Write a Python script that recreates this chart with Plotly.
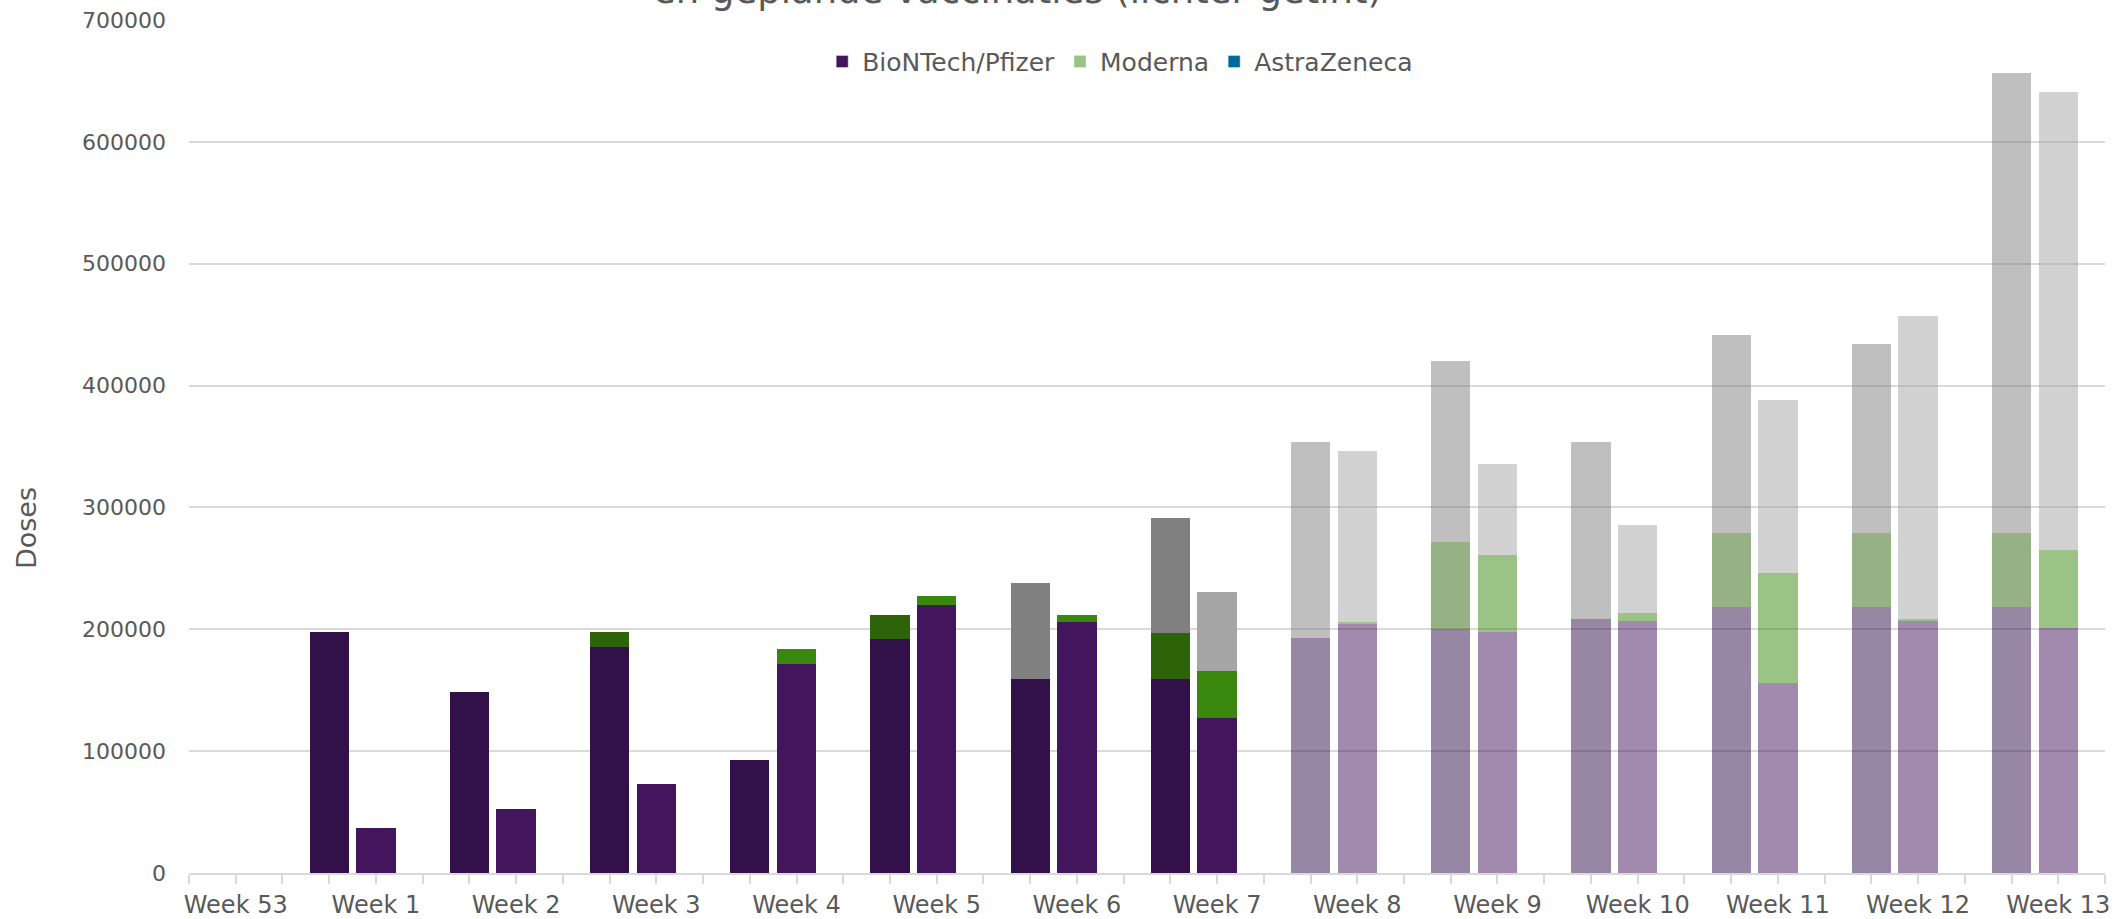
import plotly.graph_objects as go

weeks = ["Week 53", "Week 1", "Week 2", "Week 3", "Week 4", "Week 5", "Week 6",
         "Week 7", "Week 8", "Week 9", "Week 10", "Week 11", "Week 12", "Week 13"]

# Delivered (left bar of each week)
pfizer_delivered = [0, 198000, 148500, 185500, 92700, 192000, 159300, 159300,
                    192800, 200000, 208400, 218500, 218500, 218500]
moderna_delivered = [0, 0, 0, 12300, 0, 19700, 0, 37700,
                     0, 71600, 0, 60900, 60900, 60900]
astra_delivered = [0, 0, 0, 0, 0, 0, 78700, 94600,
                   160900, 148500, 145300, 162100, 155100, 376900]

# Planned (right bar of each week)
pfizer_planned = [0, 36700, 52300, 73300, 171300, 219900, 206000, 127200,
                  204300, 197800, 206500, 155700, 206500, 201000]
moderna_planned = [0, 0, 0, 0, 12500, 7400, 5700, 38600,
                   2000, 62800, 6700, 90700, 1900, 64300]
astra_planned = [0, 0, 0, 0, 0, 0, 0, 64800,
                 140000, 75000, 72400, 141700, 248700, 375500]

first_light_week = 8  # from Week 8 on the bars are tinted lighter

y_ticks = [0, 100000, 200000, 300000, 400000, 500000, 600000, 700000]
y_ticktext = ["0", "100000", "200000", "300000", "400000", "500000", "600000", "700000"]

legend_names = ["BioNTech/Pfizer", "Moderna", "AstraZeneca"]
legend_colors = ["rgb(67,21,92)", "rgb(155,196,132)", "rgb(0,105,150)"]

FONT = "DejaVu Sans"
TXT = "#595959"
GRID = "#d9d9d9"

n = len(weeks)
x_left = [3 * i for i in range(n)]
x_right = [3 * i + 1 for i in range(n)]


def colors(rgb):
    return [f"rgba({rgb},{0.5 if i >= first_light_week else 1})" for i in range(n)]


fig = go.Figure()
series = [
    (x_left, pfizer_delivered, "50,16,74"),
    (x_right, pfizer_planned, "67,21,92"),
    (x_left, moderna_delivered, "45,100,9"),
    (x_right, moderna_planned, "58,135,14"),
    (x_left, astra_delivered, "128,128,128"),
    (x_right, astra_planned, "166,166,166"),
]
for xs, ys, rgb in series:
    fig.add_trace(go.Bar(x=xs, y=ys, width=0.84, marker=dict(color=colors(rgb), line=dict(width=0)),
                         showlegend=False, hoverinfo="y"))

for name, col in zip(legend_names, legend_colors):
    fig.add_trace(go.Bar(x=[None], y=[None], name=name, marker=dict(color=col), showlegend=True))

tickvals = list(range(3 * n))
ticktext = [weeks[v // 3] if v % 3 == 1 else "" for v in tickvals]

fig.update_layout(
    width=2128, height=919,
    barmode="stack",
    paper_bgcolor="white", plot_bgcolor="white",
    margin=dict(l=189, r=23, t=20, b=46, autoexpand=False),
    font=dict(family=FONT, size=22, color=TXT),
    legend=dict(orientation="h", x=0.486, xanchor="center", y=0.951, yanchor="middle",
                font=dict(size=25, color=TXT), itemwidth=30, traceorder="normal"),
    xaxis=dict(range=[0, 3 * n - 1], tickvals=tickvals, ticktext=ticktext, ticks="outside",
               ticklen=9, tickwidth=2, tickcolor=GRID, showgrid=False, showline=True,
               linecolor=GRID, linewidth=2, zeroline=False, automargin=False,
               tickfont=dict(size=24, color=TXT)),
    yaxis=dict(range=[0, 700000], tickvals=y_ticks, ticktext=y_ticktext, showgrid=True,
               gridcolor=GRID, gridwidth=2, zeroline=False, showline=False, ticks="",
               automargin=False, ticklabelstandoff=22, tickfont=dict(size=22, color=TXT)),
    annotations=[
        dict(text="en geplande vaccinaties (lichter getint)", xref="paper", yref="paper",
             x=0.4326, y=1.007, xanchor="center", yanchor="bottom", showarrow=False,
             font=dict(size=37, color=TXT, family=FONT)),
        dict(text="Doses", xref="paper", yref="paper", x=-0.0847, y=0.404, textangle=-90,
             xanchor="center", yanchor="middle", showarrow=False,
             font=dict(size=27, color=TXT, family=FONT)),
    ],
)

fig.write_html("out.html", config={"displayModeBar": False},
               post_script="document.body.style.margin='0';")
